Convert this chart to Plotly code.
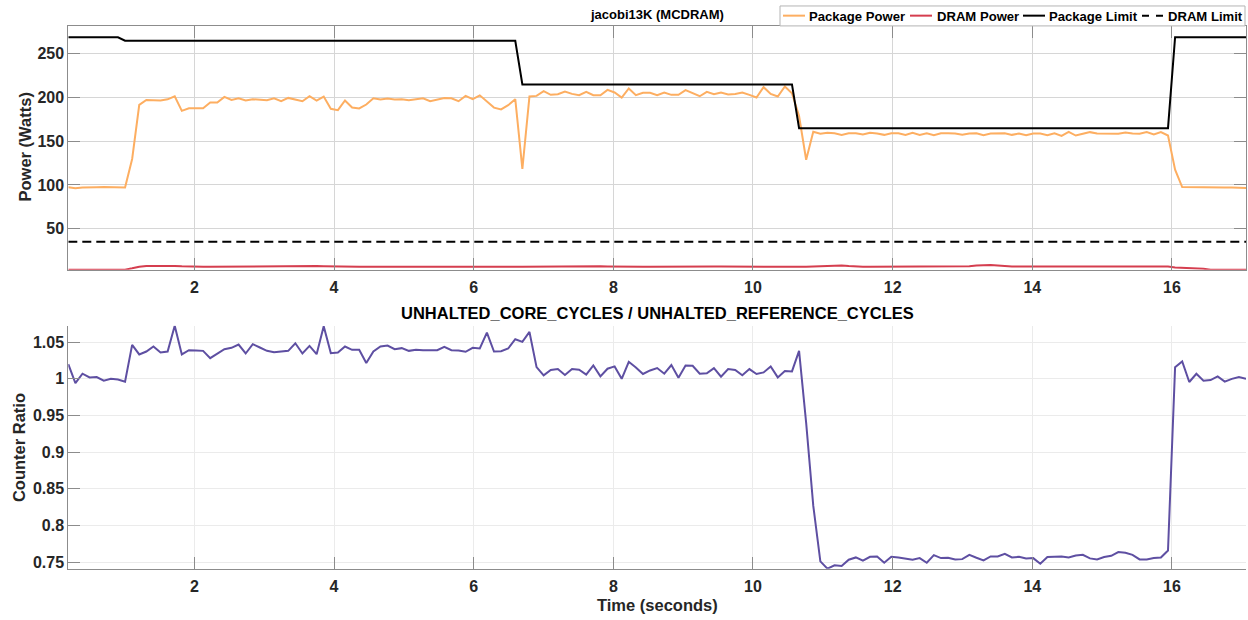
import numpy as np
import plotly.graph_objects as go

# ---- sampled data (one sample every ~0.1 s) ----
t_start = 0.195
t_step = 0.1016

package_power = [
    97.3, 96.2, 97.0, 97.5, 97.3, 97.5, 97.5, 97.3, 97.0,            # 0-8
    129.7, 191.6, 197.3, 197.0, 196.6, 198.0, 201.5, 184.8,          # 9-16
    187.8, 187.8, 187.8, 194.3, 194.3, 200.8, 197.3, 199.2,          # 17-24
    196.6, 198.1, 197.5, 197.0, 199.2, 195.8, 199.6, 198.1,          # 25-32
    195.8, 201.5, 196.6, 201.1, 187.1, 185.6, 196.6, 188.6,          # 33-40
    187.5, 192.0, 199.2, 197.7, 198.9, 197.7, 198.1, 197.0,          # 41-48
    197.7, 199.2, 195.8, 197.8, 199.6, 199.2, 195.8, 201.9,          # 49-56
    198.1, 202.5, 195.4, 188.5, 186.5, 191.2, 198.1, 118.4,          # 57-64
    201.2, 201.9, 207.3, 203.1, 203.8, 206.9, 204.2, 202.7,          # 65-72
    206.5, 202.7, 202.7, 208.8, 205.8, 200.0, 210.4, 202.7,          # 73-80
    205.4, 205.4, 202.7, 205.8, 203.1, 203.1, 208.5, 205.4,          # 81-88
    201.5, 206.5, 203.8, 205.8, 203.5, 204.2, 205.8, 203.1,          # 89-96
    200.0, 211.9, 204.2, 201.2, 212.7, 205.0, 178.8, 128.8,          # 97-104
    160.8, 158.5, 159.6, 159.2, 157.3, 159.2, 159.2, 157.7,          # 105-112
    159.6, 158.8, 157.3, 159.2, 159.2, 157.3, 159.6, 157.3,          # 113-120
    159.2, 156.9, 159.2, 159.2, 158.8, 157.3, 158.8, 159.2,          # 121-128
    156.9, 158.8, 159.2, 159.2, 157.3, 158.8, 156.9, 158.8,          # 129-136
    158.8, 156.9, 159.2, 156.2, 160.8, 156.5, 158.5, 160.4,          # 137-144
    158.8, 158.5, 158.5, 158.5, 160.0, 158.8, 158.5, 160.4,          # 145-152
    157.7, 160.4, 156.5, 117.5, 97.6, 97.4, 97.4, 97.3,              # 153-160
    97.3, 96.4, 97.0, 96.9, 96.8, 96.6,                              # 161-166
]

dram_power = (
    [2.8] * 8
    + [3.0, 4.6, 6.4, 7.2, 7.3, 7.3, 7.2, 7.2, 6.8]
    + [6.4, 6.3, 6.3, 6.2, 6.3, 6.3, 6.4, 6.4, 6.3, 6.3, 6.4, 6.4, 6.5, 6.6, 6.8]
    + [7.0, 7.1, 7.2, 7.1, 6.9]
    + [6.6, 6.4, 6.3, 6.3, 6.2, 6.2, 6.3, 6.3, 6.4, 6.4, 6.3, 6.3, 6.3, 6.2, 6.3, 6.4,
       6.4, 6.3, 6.3, 6.3, 6.4, 6.4, 6.3, 6.2, 6.2, 6.3, 6.3, 6.4, 6.5, 6.6, 6.8]
    + [7.0, 7.1, 7.1, 7.0, 7.0, 7.1, 7.0, 6.9, 6.7]
    + [6.5, 6.4, 6.3, 6.3, 6.3, 6.4, 6.5, 6.7, 6.8, 6.8, 6.7, 6.7, 6.8, 6.8, 6.7, 6.6,
       6.5, 6.4, 6.4, 6.3, 6.3, 6.3, 6.4, 6.4, 6.4, 6.3, 6.3, 6.4, 6.6]
    + [7.3, 7.8, 8.0, 7.8, 7.2]
    + [6.6, 6.4, 6.3, 6.3, 6.3, 6.4, 6.4, 6.3, 6.3, 6.3, 6.4, 6.4, 6.3, 6.3, 6.4, 6.6, 7.0]
    + [7.8, 8.2, 8.3, 7.8]
    + [7.0, 6.6, 6.5, 6.5, 6.4, 6.4, 6.5, 6.5, 6.6, 6.6, 6.5, 6.5, 6.5, 6.5, 6.6, 6.6,
       6.6, 6.5, 6.5, 6.5, 6.6, 6.6, 6.6, 6.6]
    + [5.4, 5.0, 5.0, 4.9, 4.0]
    + [2.8] * 6
)

package_limit = [269] * 8 + [265] * 56 + [215] * 39 + [165] * 53 + [269] * 11
dram_limit = [35] * 167

cycle_ratio = [
    1.0201, 0.9943, 1.0070, 1.0020, 1.0025, 0.9975, 1.0000, 0.9990,  # 0-7
    0.9960, 1.0464, 1.0333, 1.0373, 1.0441, 1.0360, 1.0373, 1.0726,  # 8-15
    1.0333, 1.0391, 1.0387, 1.0382, 1.0283, 1.0342, 1.0405, 1.0423,  # 16-23
    1.0468, 1.0346, 1.0473, 1.0428, 1.0382, 1.0364, 1.0375, 1.0382,  # 24-31
    1.0486, 1.0346, 1.0450, 1.0337, 1.0717, 1.0351, 1.0360, 1.0441,  # 32-39
    1.0396, 1.0396, 1.0215, 1.0373, 1.0441, 1.0455, 1.0405, 1.0419,  # 40-47
    1.0382, 1.0396, 1.0390, 1.0387, 1.0391, 1.0437, 1.0391, 1.0387,  # 48-55
    1.0369, 1.0423, 1.0414, 1.0631, 1.0373, 1.0378, 1.0414, 1.0541,  # 56-63
    1.0505, 1.0640, 1.0160, 1.0048, 1.0120, 1.0133, 1.0052, 1.0133,  # 64-71
    1.0124, 1.0057, 1.0183, 1.0034, 1.0138, 1.0170, 1.0000, 1.0233,  # 72-79
    1.0156, 1.0066, 1.0115, 1.0147, 1.0070, 1.0188, 1.0016, 1.0183,  # 80-87
    1.0179, 1.0070, 1.0075, 1.0147, 1.0029, 1.0133, 1.0120, 1.0048,  # 88-95
    1.0133, 1.0066, 1.0088, 1.0170, 1.0020, 1.0106, 1.0102, 1.0382,  # 96-103
    0.9400, 0.8270, 0.7510, 0.7410, 0.7455, 0.7446, 0.7532, 0.7563,  # 104-111
    0.7518, 0.7572, 0.7577, 0.7491, 0.7572, 0.7563, 0.7545, 0.7532,  # 112-119
    0.7554, 0.7491, 0.7595, 0.7554, 0.7559, 0.7536, 0.7540, 0.7599,  # 120-127
    0.7559, 0.7523, 0.7577, 0.7577, 0.7613, 0.7563, 0.7572, 0.7550,  # 128-135
    0.7554, 0.7477, 0.7568, 0.7572, 0.7577, 0.7563, 0.7590, 0.7599,  # 136-143
    0.7550, 0.7536, 0.7568, 0.7586, 0.7636, 0.7627, 0.7599, 0.7536,  # 144-151
    0.7536, 0.7554, 0.7563, 0.7658, 1.0160, 1.0238, 0.9957, 1.0070,  # 152-159
    0.9975, 0.9984, 1.0034, 0.9962, 1.0000, 1.0025, 1.0000,          # 160-166
]

time_s = t_start + t_step * np.arange(len(package_power))

x_ticks = [2, 4, 6, 8, 10, 12, 14, 16]
power_ticks = [50, 100, 150, 200, 250]
ratio_ticks = [0.75, 0.8, 0.85, 0.9, 0.95, 1, 1.05]

# ---- styling ----
W, H = 1248, 620
FONT = "Liberation Sans"
TICK_COLOR = "#262626"
AX_COLOR = "#8c8c8c"

series_style = {
    "Package Power": dict(color="#FDAE61", width=2),
    "DRAM Power": dict(color="#D53E4F", width=2),
    "Package Limit": dict(color="black", width=2),
    "DRAM Limit": dict(color="black", width=2, dash="9px,5px"),
}
power_series = {
    "Package Power": package_power,
    "DRAM Power": dram_power,
    "Package Limit": package_limit,
    "DRAM Limit": dram_limit,
}

fig = go.Figure()
for name, values in power_series.items():
    fig.add_trace(go.Scatter(x=time_s, y=values, mode="lines", name=name,
                             line=series_style[name], showlegend=False,
                             xaxis="x", yaxis="y"))
fig.add_trace(go.Scatter(x=time_s, y=cycle_ratio, mode="lines", showlegend=False,
                         name="Counter Ratio", line=dict(color="#5E4FA2", width=2),
                         xaxis="x2", yaxis="y2"))

x_dom = [68.3 / W, 1246 / W]
tickfont = dict(family=FONT, size=16, color=TICK_COLOR, weight="bold")
common_x = dict(range=[time_s[0], 17.06], tickvals=x_ticks, showgrid=True,
                ticks="inside", ticklen=12, tickcolor=AX_COLOR, showline=True,
                linecolor=AX_COLOR, linewidth=1, tickfont=tickfont, zeroline=False,
                domain=x_dom, ticklabelstandoff=3)

fig.update_layout(
    width=W, height=H,
    margin=dict(l=0, r=0, t=0, b=0),
    paper_bgcolor="white", plot_bgcolor="white",
    showlegend=False,
    xaxis=dict(**common_x, anchor="y", gridcolor="#d6d6d6", mirror="ticks"),
    yaxis=dict(domain=[1 - 270.7 / H, 1 - 26 / H], range=[2.8, 282], tickvals=power_ticks,
               showgrid=True, gridcolor="#d6d6d6", ticks="inside", ticklen=12,
               tickcolor=AX_COLOR, showline=True, linecolor=AX_COLOR, mirror="ticks",
               tickfont=tickfont, zeroline=False, anchor="x"),
    xaxis2=dict(**common_x, anchor="y2", gridcolor="#ebebeb"),
    yaxis2=dict(domain=[1 - 570.5 / H, 1 - 326.7 / H], range=[0.741, 1.0726],
                tickvals=ratio_ticks, tickformat=".2~f", showgrid=True, gridcolor="#ebebeb",
                ticks="inside", ticklen=12, tickcolor=AX_COLOR, showline=True,
                linecolor=AX_COLOR, tickfont=tickfont, zeroline=False, anchor="x2"),
)

# ---- legend box (compact keys, laid out in pixels) ----
def px_x(v):
    return v / W

def px_y(v):
    return 1 - v / H

fig.add_shape(type="rect", xref="paper", yref="paper", x0=px_x(780), x1=px_x(1245),
              y0=px_y(26), y1=px_y(6), line=dict(color="#b4b4b4", width=1),
              fillcolor="white", layer="above")
legend_layout = [  # key start, key end, label start
    ("Package Power", 783, 805, 807),
    ("DRAM Power", 910, 932, 935),
    ("Package Limit", 1023, 1045, 1047),
    ("DRAM Limit", 1142, 1163, 1166),
]
for name, k0, k1, tx in legend_layout:
    style = dict(series_style[name])
    if "dash" in style:
        style["dash"] = "7px,7px"
    fig.add_shape(type="line", xref="paper", yref="paper", x0=px_x(k0), x1=px_x(k1),
                  y0=px_y(15.7), y1=px_y(15.7), line=style, layer="above")
    fig.add_annotation(text=name, xref="paper", yref="paper", x=px_x(tx), y=px_y(16.2),
                       xanchor="left", yanchor="middle", showarrow=False,
                       font=dict(family=FONT, size=13.1, color="black", weight="bold"))

title_font = dict(family=FONT, color="black", weight="bold")
fig.add_annotation(text="jacobi13K (MCDRAM)", xref="paper", yref="paper",
                   x=657 / W, y=px_y(15), xanchor="center", yanchor="middle",
                   showarrow=False, font=dict(**title_font, size=13))
fig.add_annotation(text="UNHALTED_CORE_CYCLES / UNHALTED_REFERENCE_CYCLES", xref="paper",
                   yref="paper", x=657 / W, y=px_y(314), xanchor="center",
                   yanchor="middle", showarrow=False, font=dict(**title_font, size=16.5))
axis_title_font = dict(family=FONT, size=16.5, color=TICK_COLOR, weight="bold")
fig.add_annotation(text="Power (Watts)", xref="paper", yref="paper", x=px_x(25),
                   y=px_y(148), xanchor="center", yanchor="middle", textangle=-90,
                   showarrow=False, font=axis_title_font)
fig.add_annotation(text="Counter Ratio", xref="paper", yref="paper", x=px_x(18.5),
                   y=px_y(449), xanchor="center", yanchor="middle", textangle=-90,
                   showarrow=False, font=axis_title_font)
fig.add_annotation(text="Time (seconds)", xref="paper", yref="paper", x=657 / W,
                   y=px_y(607), xanchor="center", yanchor="middle",
                   showarrow=False, font=axis_title_font)

fig.write_html("out.html")
